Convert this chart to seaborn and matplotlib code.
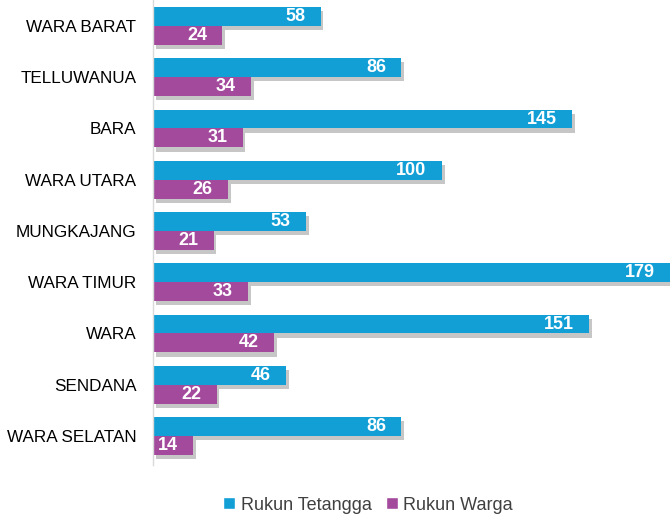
import pandas as pd
import matplotlib
matplotlib.use('Agg')
import matplotlib.pyplot as plt
import matplotlib.patheffects as pe
from matplotlib.patches import Patch
import seaborn as sns

# data per kelurahan
wilayah = ['WARA BARAT', 'TELLUWANUA', 'BARA', 'WARA UTARA', 'MUNGKAJANG',
           'WARA TIMUR', 'WARA', 'SENDANA', 'WARA SELATAN']
rukun_tetangga = [58, 86, 145, 100, 53, 179, 151, 46, 86]
rukun_warga = [24, 34, 31, 26, 21, 33, 42, 22, 14]
seri = ['Rukun Tetangga', 'Rukun Warga']
warna = ['#129FD6', '#A34A9D']

df = pd.DataFrame({'Wilayah': wilayah, seri[0]: rukun_tetangga, seri[1]: rukun_warga})
df = df.melt(id_vars='Wilayah', var_name='Jenis', value_name='Jumlah')

sns.set_style('white')
plt.rcParams['font.family'] = ['Liberation Sans', 'DejaVu Sans']

fig = plt.figure(figsize=(6.70, 5.17), dpi=100)
ax = fig.add_axes([153 / 670, 52 / 517, 1 - 153 / 670, 465 / 517])

sns.barplot(data=df, y='Wilayah', x='Jumlah', hue='Jenis', order=wilayah,
            hue_order=seri, palette=warna, saturation=1, width=0.74,
            orient='h', ax=ax, legend=False, linewidth=0)

# bayangan bar dan label angka
for cont in ax.containers:
    for p in cont:
        p.set_path_effects([pe.SimplePatchShadow(offset=(2, -3), alpha=0.3, shadow_rgbFace='#444444'),
                            pe.Normal()])
        w = p.get_width()
        ax.annotate(f'{int(w)}', (w, p.get_y() + p.get_height() / 2),
                    xytext=(-11, 0), textcoords='offset points',
                    ha='right', va='center', color='white',
                    fontsize=13, fontweight='bold')

ax.set_xlim(0, 179)
ax.set_ylim(8.566, -0.507)
ax.set_xlabel('')
ax.set_ylabel('')
ax.set_xticks([])
ax.tick_params(axis='y', length=0, pad=12, labelsize=12.3, labelcolor='black')
for s in ['top', 'right', 'bottom']:
    ax.spines[s].set_visible(False)
ax.spines['left'].set_color('#d9d9d9')
ax.spines['left'].set_linewidth(1)

# legenda di bawah
handles = [Patch(facecolor=c, label=l) for c, l in zip(warna, seri)]
fig.legend(handles=handles, loc='center', bbox_to_anchor=(368 / 670, 1 - 505 / 517),
           ncol=2, frameon=False, fontsize=13, handlelength=0.65, handleheight=0.65,
           handletextpad=0.3, columnspacing=0.8, labelcolor='#404040')

fig.savefig('out.png', dpi=100)
